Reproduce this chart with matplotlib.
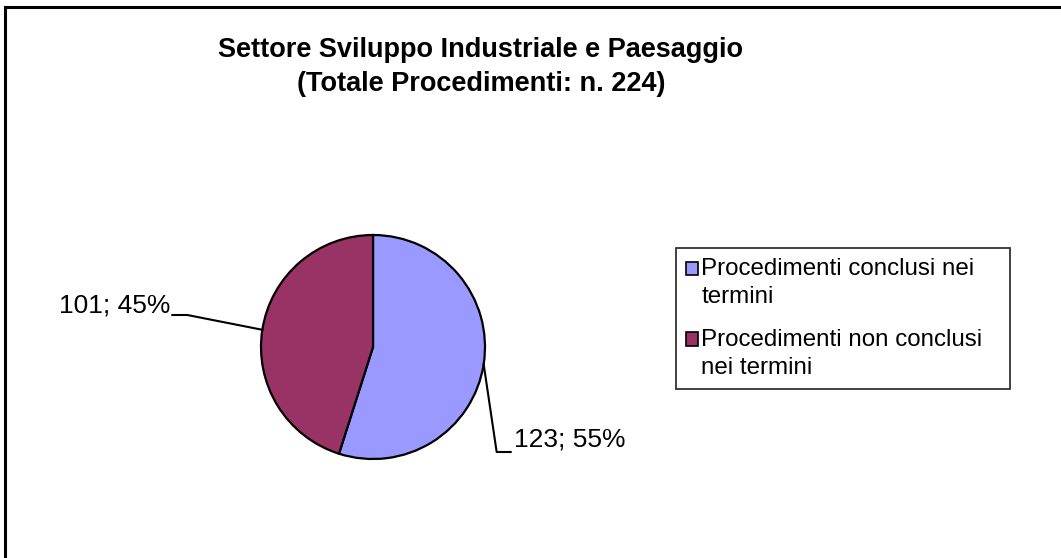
import matplotlib.pyplot as plt
import numpy as np

# Dati del grafico
categorie = ['Procedimenti conclusi nei\ntermini', 'Procedimenti non conclusi\nnei termini']
valori = [123, 101]
colori = ['#9999FF', '#993366']
titolo = 'Settore Sviluppo Industriale e Paesaggio\n(Totale Procedimenti: n. 224)'

W, H = 1061, 558
plt.rcParams['font.family'] = ['Liberation Sans', 'DejaVu Sans']

fig = plt.figure(figsize=(W / 100, H / 100), dpi=100)
ax = fig.add_axes([0, 0, 1, 1])

# Cornice del documento (bordo superiore e sinistro)
ax.plot([5, W], [H - 7, H - 7], color='black', lw=2.2, clip_on=False)
ax.plot([5, 5], [H - 7, 0], color='black', lw=2.2, clip_on=False)

cx, cy, r = 373, H - 347, 112
wedges, _ = ax.pie(valori, colors=colori, startangle=90, counterclock=False,
                   center=(cx, cy), radius=r, frame=True,
                   wedgeprops=dict(edgecolor='black', linewidth=1.6))
ax.set_xlim(0, W)
ax.set_ylim(0, H)
ax.set_aspect('equal')
ax.axis('off')

ax.text(481, H - 67, titolo, ha='center', va='center', fontsize=19.5,
        fontweight='bold', linespacing=1.36)

# Etichette con linee guida
totale = sum(valori)
for w, v in zip(wedges, valori):
    ang = np.deg2rad((w.theta1 + w.theta2) / 2)
    x0, y0 = cx + r * np.cos(ang), cy + r * np.sin(ang)
    testo = f'{v}; {round(100 * v / totale)}%'
    if np.cos(ang) > 0:
        xs = [x0, x0 + 13, x0 + 27]
        ys = [y0, H - 452, H - 452]
        ax.plot(xs, ys, color='black', lw=1.5)
        ax.text(xs[-1] + 3, ys[-1] + 1, testo, ha='left', va='bottom', fontsize=19)
    else:
        xs = [x0, x0 - 75, x0 - 90]
        ys = [y0, H - 315, H - 315]
        ax.plot(xs, ys, color='black', lw=1.5)
        ax.text(xs[-1] - 2, ys[-1] - 3, testo, ha='right', va='bottom', fontsize=19)

fs = 17.4
leg = fig.legend(wedges, categorie, loc='upper left', mode='expand',
                 bbox_to_anchor=(676 / W, 1 - 388 / H, (1010 - 676) / W, 140 / H),
                 fontsize=fs, frameon=True, fancybox=False, edgecolor='black',
                 handlelength=0.5, handleheight=0.5, handletextpad=0.12,
                 borderpad=0.42, labelspacing=0.85, borderaxespad=0)
leg.get_frame().set_linewidth(1.3)
for t in leg.get_texts():
    t.set_linespacing(1.35)
# quadratino allineato alla prima riga dell'etichetta
for h in leg.legend_handles:
    h.set_y(h.get_y() + 0.6 * fs)
    h.set_linewidth(1.2)

fig.savefig('out.png', dpi=100)
